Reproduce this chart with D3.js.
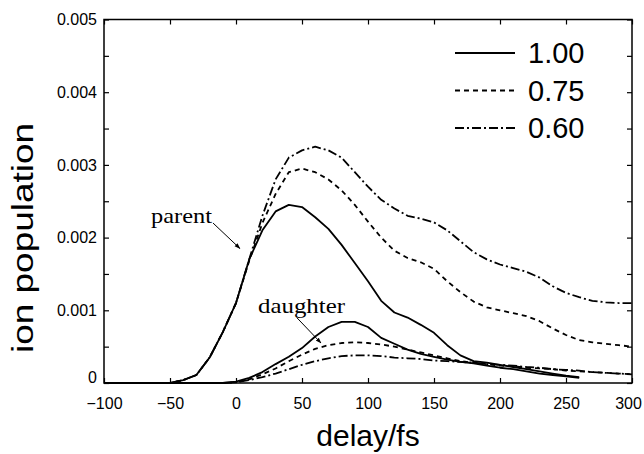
<!DOCTYPE html>
<html>
<head>
<meta charset="utf-8">
<script src="https://cdn.jsdelivr.net/npm/d3@7"></script>
<style>
	body { margin: 0; background: #fff; }
	svg { display: block; }
</style>
</head>
<body>
<div id="vizholder"></div>
<script>

// delay in fs, populations for the three field ratios
var delays = [-100, -90, -80, -70, -60, -50, -40, -30, -20, -10, 0, 10, 20, 30, 40, 50, 60, 70, 80, 90, 100,
	110, 120, 130, 140, 150, 160, 170, 180, 190, 200, 210, 220, 230, 240, 250, 260, 270, 280, 290, 300];

var parent100 = [0, 0, 0, 0, 0, 0, 0.00004, 0.00011, 0.00035, 0.0007, 0.0011, 0.0017, 0.0021, 0.00236, 0.00245, 0.00242, 0.00228, 0.00212, 0.0019, 0.00165, 0.0014,
	0.00113, 0.00097, 0.0009, 0.0008, 0.00069, 0.00052, 0.00038, 0.0003, 0.00028, 0.00025, 0.00022, 0.00019, 0.00016, 0.00013, 0.0001, 0.00008];
var parent075 = [0, 0, 0, 0, 0, 0, 0.00004, 0.00011, 0.00035, 0.0007, 0.0011, 0.00168, 0.0022, 0.0026, 0.0029, 0.00295, 0.0029, 0.0028, 0.00265, 0.00245, 0.00222,
	0.002, 0.00182, 0.00172, 0.00166, 0.00157, 0.0014, 0.00125, 0.00112, 0.00104, 0.001, 0.00096, 0.00092, 0.00085, 0.00075, 0.00066, 0.00059, 0.00056, 0.00054, 0.00052, 0.0005];
var parent060 = [0, 0, 0, 0, 0, 0, 0.00004, 0.00011, 0.00035, 0.0007, 0.0011, 0.0017, 0.0023, 0.0028, 0.0031, 0.0032, 0.00325, 0.0032, 0.0031, 0.0029, 0.0027,
	0.00252, 0.0024, 0.0023, 0.00226, 0.00221, 0.0021, 0.00195, 0.0018, 0.0017, 0.00163, 0.00158, 0.00153, 0.00145, 0.00133, 0.00124, 0.00118, 0.00113, 0.00111, 0.0011, 0.0011];

var daughter100 = [0, 0, 0, 0, 0, 0, 0, 0, 0, 0, 0.00002, 0.00007, 0.00015, 0.00026, 0.00036, 0.00048, 0.00064, 0.00077, 0.00084, 0.00084, 0.00077,
	0.00062, 0.00054, 0.00046, 0.0004, 0.00036, 0.00032, 0.00029, 0.00027, 0.00024, 0.00021, 0.00019, 0.00016, 0.00013, 0.00011, 0.00009, 0.00007];
var daughter075 = [0, 0, 0, 0, 0, 0, 0, 0, 0, 0, 0.00001, 0.00005, 0.00012, 0.0002, 0.0003, 0.00039, 0.00047, 0.00052, 0.00055, 0.00056, 0.00055,
	0.00053, 0.0005, 0.00046, 0.00042, 0.00038, 0.00034, 0.0003, 0.00028, 0.00026, 0.00024, 0.00023, 0.00021, 0.0002, 0.00019, 0.00017, 0.00016, 0.00015, 0.00014, 0.00013, 0.00012];
var daughter060 = [0, 0, 0, 0, 0, 0, 0, 0, 0, 0, 0.00001, 0.00004, 0.00008, 0.00013, 0.00019, 0.00025, 0.0003, 0.00034, 0.00037, 0.00038, 0.00038,
	0.00037, 0.00035, 0.00034, 0.00033, 0.00031, 0.0003, 0.00029, 0.00028, 0.00026, 0.00025, 0.00024, 0.00022, 0.00021, 0.00019, 0.00018, 0.00017, 0.00015, 0.00014, 0.00013, 0.00012];

var legendLabels = ["1.00", "0.75", "0.60"];
var xTicks = [-100, -50, 0, 50, 100, 150, 200, 250, 300];
var yTicks = [0, 0.001, 0.002, 0.003, 0.004, 0.005];
var yMinor = [0.0005, 0.0015, 0.0025, 0.0035, 0.0045];

var dashes = [null, "5,4", "9,3,2,3"];

var series = [
	{ values: parent100, style: 0 },
	{ values: parent075, style: 1 },
	{ values: parent060, style: 2 },
	{ values: daughter100, style: 0 },
	{ values: daughter075, style: 1 },
	{ values: daughter060, style: 2 }
];

var gfxwidth = 644, gfxheight = 454;
var margin = {top: 19.5, right: 12, bottom: 71, left: 104};
var width = gfxwidth - margin.left - margin.right,
	height = gfxheight - margin.top - margin.bottom;

var svg = d3.select("#vizholder").append("svg")
	.attr("width", gfxwidth)
	.attr("height", gfxheight);

var defs = svg.append("defs");
defs.append("marker")
	.attr("id", "arrowhead")
	.attr("viewBox", "0 0 10 10")
	.attr("refX", 9).attr("refY", 5)
	.attr("markerWidth", 6).attr("markerHeight", 6)
	.attr("markerUnits", "userSpaceOnUse")
	.attr("orient", "auto")
	.append("path")
	.attr("d", "M0,1.5 L10,5 L0,8.5 z")
	.attr("fill", "#000");

var g = svg.append("g")
	.attr("transform", "translate(" + margin.left + "," + margin.top + ")");

var x = d3.scaleLinear().domain([-100, 300]).range([0, width]);
var y = d3.scaleLinear().domain([0, 0.005]).range([height, 0]);

// frame
g.append("rect")
	.attr("width", width).attr("height", height)
	.attr("fill", "none").attr("stroke", "#000").attr("stroke-width", 1.5);

// ticks on all four sides, pointing in
var tickLen = 5;
var xAxisB = d3.axisBottom(x).tickValues(xTicks).tickSizeInner(-tickLen).tickSizeOuter(0).tickPadding(15)
	.tickFormat(d3.format("d"));
var gxb = g.append("g").attr("transform", "translate(0," + height + ")").call(xAxisB);
var xAxisT = d3.axisTop(x).tickValues(xTicks).tickSizeInner(-tickLen).tickSizeOuter(0).tickFormat("");
var gxt = g.append("g").call(xAxisT);

var yAll = yTicks.concat(yMinor);
var yAxisL = d3.axisLeft(y).tickValues(yTicks).tickSizeInner(-tickLen).tickSizeOuter(0).tickPadding(7)
	.tickFormat(function(d) { return d === 0 ? "0" : d3.format(".3f")(d); });
var gyl = g.append("g").call(yAxisL);
g.append("g").call(d3.axisLeft(y).tickValues(yMinor).tickSizeInner(-tickLen).tickSizeOuter(0).tickFormat(""));
g.append("g").attr("transform", "translate(" + width + ",0)")
	.call(d3.axisRight(y).tickValues(yAll).tickSizeInner(-tickLen).tickSizeOuter(0).tickFormat(""));

g.selectAll(".domain").remove();
g.selectAll(".tick line").attr("stroke", "#000").attr("stroke-width", 1.2);
g.selectAll(".tick text")
	.attr("fill", "#000")
	.style("font-family", "Liberation Sans, Arial, sans-serif")
	.style("font-size", "16px");
gyl.selectAll(".tick text").filter(function(d) { return d === 0; }).attr("dy", "-0.05em");
// keep the last label inside the page, as in the reference
gxb.selectAll(".tick text").filter(function(d) { return d === 300; }).attr("dx", "-4");

// curves
var line = d3.line()
	.x(function(d) { return x(d[0]); })
	.y(function(d) { return y(d[1]); });

series.forEach(function(s) {
	var pts = s.values.map(function(v, i) { return [delays[i], v]; });
	g.append("path")
		.datum(pts)
		.attr("d", line)
		.attr("fill", "none")
		.attr("stroke", "#000")
		.attr("stroke-width", 1.8)
		.attr("stroke-linejoin", "round")
		.attr("stroke-dasharray", dashes[s.style]);
});

// legend
var legend = g.append("g").attr("transform", "translate(" + (455 - margin.left) + "," + (53 - margin.top) + ")");
legendLabels.forEach(function(lab, i) {
	var ly = i * 37.5;
	legend.append("line")
		.attr("x1", 0).attr("x2", 60)
		.attr("y1", ly).attr("y2", ly)
		.attr("stroke", "#000").attr("stroke-width", 1.8)
		.attr("stroke-dasharray", dashes[i]);
	legend.append("text")
		.attr("x", 73).attr("y", ly)
		.attr("dy", "0.36em")
		.style("font-family", "Liberation Sans, Arial, sans-serif")
		.style("font-size", "29px")
		.text(lab);
});

// annotations
var notes = [
	{ text: "parent", len: 61, tx: -64.4, ty: 0.0022, x1: -17.4, y1: 0.0022, x2: 3, y2: 0.00185 },
	{ text: "daughter", len: 87, tx: 16.7, ty: 0.00096, x1: 46, y1: 0.0009, x2: 64.4, y2: 0.00055 }
];
notes.forEach(function(n) {
	g.append("text")
		.attr("x", x(n.tx)).attr("y", y(n.ty))
		.attr("textLength", n.len)
		.attr("lengthAdjust", "spacingAndGlyphs")
		.style("font-family", "Liberation Serif, Times New Roman, serif")
		.style("font-size", "22px")
		.text(n.text);
	g.append("line")
		.attr("x1", x(n.x1)).attr("y1", y(n.y1))
		.attr("x2", x(n.x2)).attr("y2", y(n.y2))
		.attr("stroke", "#000").attr("stroke-width", 1)
		.attr("marker-end", "url(#arrowhead)");
});

// axis titles
svg.append("text")
	.attr("x", margin.left + width / 2)
	.attr("y", 446)
	.attr("text-anchor", "middle")
	.style("font-family", "Liberation Sans, Arial, sans-serif")
	.style("font-size", "30px")
	.text("delay/fs");

svg.append("text")
	.attr("transform", "translate(33,238) rotate(-90)")
	.attr("text-anchor", "middle")
	.attr("textLength", 230)
	.attr("lengthAdjust", "spacingAndGlyphs")
	.style("font-family", "Liberation Sans, Arial, sans-serif")
	.style("font-size", "30px")
	.text("ion population");

</script>
</body>
</html>
